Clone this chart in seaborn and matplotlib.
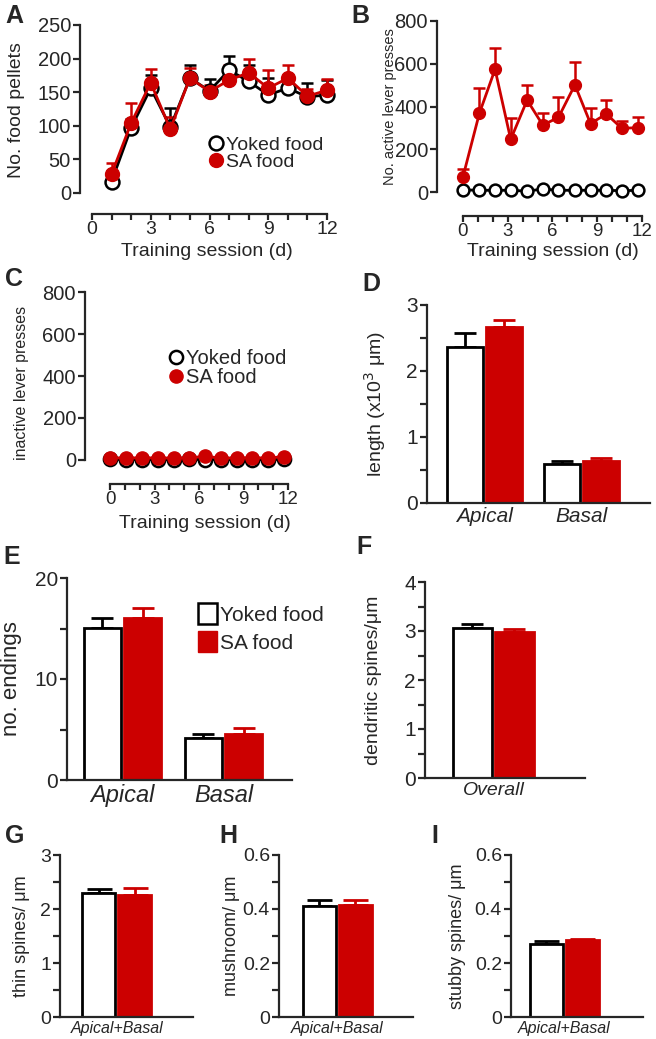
import numpy as np
import pandas as pd
import matplotlib
matplotlib.use("Agg")
import matplotlib.pyplot as plt
from matplotlib.lines import Line2D
from matplotlib.patches import Patch
from matplotlib.ticker import MultipleLocator, FuncFormatter
import seaborn as sns

sns.set_style("ticks")
plt.rcParams['font.family'] = ['Liberation Sans', 'DejaVu Sans']
plt.rcParams['axes.linewidth'] = 1.6

RED = '#cc0000'
groups = ['Yoked food', 'SA food']

# ---- data ----
# A: food pellets
days_a = [1, 2, 3, 4, 5, 6, 7, 8, 9, 10, 11, 12]
yoked_pellets = [17, 97, 156, 98, 171, 152, 183, 166, 146, 156, 143, 146]
yoked_pellets_sem = [8, 13, 20, 28, 19, 17, 21, 24, 25, 12, 21, 22]
sa_pellets = [28, 104, 164, 95, 171, 151, 168, 179, 156, 171, 144, 153]
sa_pellets_sem = [17, 30, 20, 18, 15, 10, 22, 20, 27, 19, 11, 17]

# B / C: lever presses
days_bc = [0, 1.1, 2.15, 3.2, 4.3, 5.35, 6.4, 7.5, 8.55, 9.6, 10.65, 11.75]
yoked_active = [10, 8, 8, 8, 4, 14, 8, 8, 8, 8, 6, 8]
sa_active = [71, 368, 574, 246, 430, 313, 349, 501, 320, 365, 298, 301]
sa_active_sem = [35, 117, 98, 102, 71, 55, 94, 109, 72, 64, 32, 51]
yoked_inactive = [3, 2, 2, 2, 1, 3, 2, 2, 2, 2, 2, 3]
sa_inactive = [10, 10, 10, 10, 9, 10, 18, 9, 10, 10, 10, 16]

# D: dendritic length (x10^3 um)
regions = ['Apical', 'Basal']
length_yoked = [2.36, 0.59]
length_yoked_sem = [0.21, 0.05]
length_sa = [2.66, 0.63]
length_sa_sem = [0.11, 0.05]

# E: number of endings
endings_yoked = [15.05, 4.15]
endings_yoked_sem = [0.95, 0.44]
endings_sa = [16.0, 4.6]
endings_sa_sem = [1.0, 0.5]

# F: spine density
overall = ['Overall']
spines_yoked = [3.06]
spines_yoked_sem = [0.08]
spines_sa = [2.98]
spines_sa_sem = [0.06]

# G-I: spine types
combined = ['Apical+Basal']
thin_yoked, thin_yoked_sem = [2.30], [0.07]
thin_sa, thin_sa_sem = [2.26], [0.12]
mush_yoked, mush_yoked_sem = [0.41], [0.022]
mush_sa, mush_sa_sem = [0.414], [0.018]
stubby_yoked, stubby_yoked_sem = [0.27], [0.013]
stubby_sa, stubby_sa_sem = [0.284], [0.004]

W, H = 656, 1039
fig = plt.figure(figsize=(W / 100, H / 100), dpi=100)


def box(l, t, r, b):
    return [l / W, 1 - b / H, (r - l) / W, (b - t) / H]


def fx(px):
    return px / W


def fy(py):
    return 1 - py / H


def zero_fmt(v, pos):
    return '0' if abs(v) < 1e-9 else f'{v:g}'


def line_panel(ax, x, yk, sa, sa_err, yk_err, ymax, ystep, xlim, ms, off, fs, xfs):
    if yk_err is not None:
        ax.errorbar(x, yk, yerr=[np.zeros(len(x)), yk_err], fmt='none', ecolor='black',
                    elinewidth=1.8, capsize=4, capthick=1.8, zorder=2, clip_on=False)
    ax.errorbar(x, sa, yerr=[np.zeros(len(x)), sa_err], fmt='none', ecolor=RED,
                elinewidth=1.8, capsize=4, capthick=1.8, zorder=2, clip_on=False)
    sns.lineplot(x=x, y=yk, ax=ax, color='black', marker='o', markersize=ms,
                 markerfacecolor='white', markeredgecolor='black', markeredgewidth=1.8,
                 linewidth=2, clip_on=False, zorder=3)
    sns.lineplot(x=x, y=sa, ax=ax, color=RED, marker='o', markersize=ms,
                 markerfacecolor=RED, markeredgecolor=RED, markeredgewidth=1.0,
                 linewidth=2, clip_on=False, zorder=4)
    ax.set_ylim(0, ymax)
    ax.set_xlim(*xlim)
    sns.despine(ax=ax)
    ax.spines['bottom'].set_position(('outward', off))
    ax.spines['bottom'].set_bounds(0, 12)
    ax.set_xticks(range(13))
    ax.set_xticklabels([str(i) if i % 3 == 0 else '' for i in range(13)])
    ax.set_yticks(np.arange(0, ymax + 1, ystep))
    ax.tick_params(axis='y', direction='out', length=5, width=1.6, labelsize=fs, pad=1.5)
    ax.tick_params(axis='x', direction='out', length=4.5, width=1.6, labelsize=xfs, pad=0.5)
    ax.set_xlabel('')
    ax.set_ylabel('')


def bar_panel(ax, cats, yk, yk_err, sa, sa_err, ymax, major, minor, xlim, cap, fs, cat_fs, fmt=None):
    df = pd.DataFrame({'region': cats * 2,
                       'group': ['Yoked food'] * len(cats) + ['SA food'] * len(cats),
                       'value': yk + sa})
    sns.barplot(data=df, x='region', y='value', hue='group', hue_order=groups,
                palette={'Yoked food': 'white', 'SA food': RED}, errorbar=None,
                saturation=1, width=0.8, gap=0.08, linewidth=2, legend=False, ax=ax)
    for cont, errs, col in zip(ax.containers, [yk_err, sa_err], ['black', RED]):
        for bar, e in zip(cont, errs):
            bar.set_edgecolor(col)
            cx = bar.get_x() + bar.get_width() / 2
            ax.errorbar([cx], [bar.get_height()], yerr=[[0], [e]], fmt='none', ecolor=col,
                        elinewidth=2, capsize=cap, capthick=2, zorder=0.5)
    ax.set_ylim(0, ymax)
    ax.set_xlim(*xlim)
    sns.despine(ax=ax)
    ax.yaxis.set_major_locator(MultipleLocator(major))
    ax.yaxis.set_minor_locator(MultipleLocator(minor))
    if fmt is not None:
        ax.yaxis.set_major_formatter(FuncFormatter(fmt))
    ax.tick_params(axis='y', which='both', direction='out', length=5, width=1.6, labelsize=fs, pad=1.5)
    ax.tick_params(axis='x', length=0, pad=3, labelsize=cat_fs)
    for t in ax.get_xticklabels():
        t.set_fontstyle('italic')
    ax.set_xlabel('')
    ax.set_ylabel('')


# A
axA = fig.add_axes(box(80, 25, 330, 193))
line_panel(axA, days_a, yoked_pellets, sa_pellets, sa_pellets_sem, yoked_pellets_sem,
           250, 50, (-0.61, 12.15), 10, 15, 14.5, 14)
hA = [Line2D([], [], marker='o', ls='none', mfc='white', mec='black', mew=1.8, ms=10),
      Line2D([], [], marker='o', ls='none', mfc=RED, mec=RED, ms=10)]
axA.legend(hA, groups, loc='upper left', bbox_to_anchor=(fx(208), fy(136)),
           bbox_transform=fig.transFigure, frameon=False, fontsize=14,
           handlelength=0.8, handletextpad=0.1, labelspacing=0.0, borderpad=0, borderaxespad=0)

# B
axB = fig.add_axes(box(437, 21, 648, 192))
line_panel(axB, days_bc, yoked_active, sa_active, sa_active_sem, None,
           800, 200, (-1.74, 12.4), 8.5, 17, 14.5, 13.5)

# C
axC = fig.add_axes(box(85, 292, 295, 460))
line_panel(axC, days_bc, yoked_inactive, sa_inactive, [0] * 12, None,
           800, 200, (-1.69, 12.47), 9.5, 17, 14.5, 13.5)
hC = [Line2D([], [], marker='o', ls='none', mfc='white', mec='black', mew=1.8, ms=9.5),
      Line2D([], [], marker='o', ls='none', mfc=RED, mec=RED, ms=9.5)]
axC.legend(hC, groups, loc='upper left', bbox_to_anchor=(fx(168), fy(349)),
           bbox_transform=fig.transFigure, frameon=False, fontsize=14.5,
           handlelength=0.8, handletextpad=0.1, labelspacing=0.0, borderpad=0, borderaxespad=0)

# D
axD = fig.add_axes(box(427, 305, 650, 503))
bar_panel(axD, regions, length_yoked, length_yoked_sem, length_sa, length_sa_sem,
          3, 1, 0.5, (-0.585, 1.70), 8, 15, 15)

# E
axE = fig.add_axes(box(67, 578, 292, 780))
bar_panel(axE, regions, endings_yoked, endings_yoked_sem, endings_sa, endings_sa_sem,
          20, 10, 5, (-0.55, 1.68), 8, 15, 17)
hE = [Patch(facecolor='white', edgecolor='black', linewidth=1.8),
      Patch(facecolor=RED, edgecolor=RED)]
axE.legend(hE, groups, loc='upper left', bbox_to_anchor=(fx(198), fy(603)),
           bbox_transform=fig.transFigure, frameon=False, fontsize=15,
           handlelength=0.9, handleheight=1.2, handletextpad=0.15, labelspacing=0.3,
           borderpad=0, borderaxespad=0)

# F
axF = fig.add_axes(box(425, 582, 585, 778))
bar_panel(axF, overall, spines_yoked, spines_yoked_sem, spines_sa, spines_sa_sem,
          4, 1, 0.5, (-0.65, 0.87), 8, 15, 14)

# G, H, I
axG = fig.add_axes(box(60, 855, 193, 1017))
bar_panel(axG, combined, thin_yoked, thin_yoked_sem, thin_sa, thin_sa_sem,
          3, 1, 0.5, (-0.63, 0.85), 9, 14, 11.5)
axH = fig.add_axes(box(279, 855, 413, 1017))
bar_panel(axH, combined, mush_yoked, mush_yoked_sem, mush_sa, mush_sa_sem,
          0.6, 0.2, 0.1, (-0.65, 0.84), 9, 14, 11.5, fmt=zero_fmt)
axI = fig.add_axes(box(511, 855, 643, 1017))
bar_panel(axI, combined, stubby_yoked, stubby_yoked_sem, stubby_sa, stubby_sa_sem,
          0.6, 0.2, 0.1, (-0.59, 0.87), 9, 14, 11.5, fmt=zero_fmt)

# axis titles
fig.text(fx(17), fy(110), 'No. food pellets', rotation=90, ha='center', va='center', fontsize=14)
fig.text(fx(390), fy(107), 'No. active lever presses', rotation=90, ha='center', va='center', fontsize=10.5)
fig.text(fx(22), fy(383), 'inactive lever presses', rotation=90, ha='center', va='center', fontsize=11.5)
fig.text(fx(375), fy(404), 'length (x10$^3$ μm)', rotation=90, ha='center', va='center', fontsize=14)
fig.text(fx(12), fy(679), 'no. endings', rotation=90, ha='center', va='center', fontsize=16)
fig.text(fx(373), fy(680), 'dendritic spines/μm', rotation=90, ha='center', va='center', fontsize=14)
fig.text(fx(22), fy(936), 'thin spines/ μm', rotation=90, ha='center', va='center', fontsize=13)
fig.text(fx(232), fy(936), 'mushroom/ μm', rotation=90, ha='center', va='center', fontsize=13)
fig.text(fx(457), fy(936), 'stubby spines/ μm', rotation=90, ha='center', va='center', fontsize=13)
for cx, cy in [(207, 251), (553, 252), (205, 523)]:
    fig.text(fx(cx), fy(cy), 'Training session (d)', ha='center', va='center', fontsize=14)

# panel letters
for lab, cx, cy in [('A', 14, 16), ('B', 360, 16), ('C', 14, 279), ('D', 371, 284),
                    ('E', 12, 557), ('F', 364, 547), ('G', 15, 836), ('H', 228, 836),
                    ('I', 435, 836)]:
    fig.text(fx(cx), fy(cy), lab, ha='center', va='center', fontsize=18, fontweight='bold')

fig.savefig('out.png', dpi=100)
